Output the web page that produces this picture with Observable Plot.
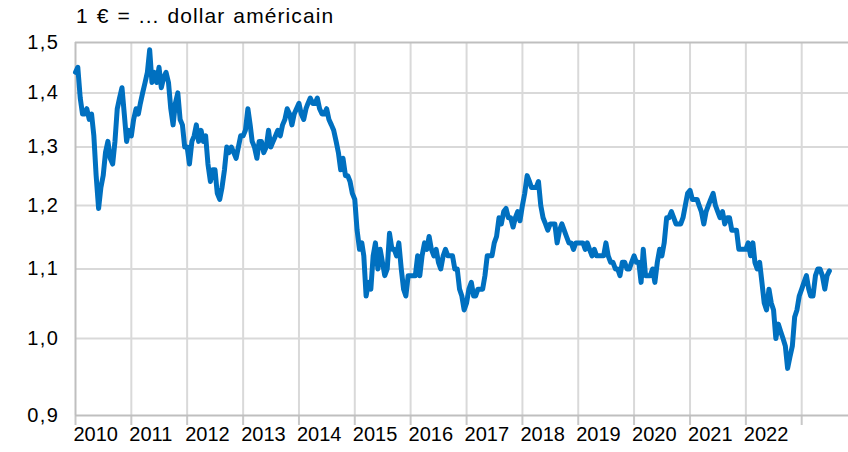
<!DOCTYPE html>
<html><head><meta charset="utf-8">
<script src="https://cdn.jsdelivr.net/npm/d3@7"></script>
<script src="https://cdn.jsdelivr.net/npm/@observablehq/plot@0.6"></script>
<style>
body{margin:0;background:#fff;font-family:"Liberation Sans",Arial,sans-serif;}
#wrap{position:relative;width:848px;height:452px;}
#title{position:absolute;left:76px;top:4px;font-size:21px;letter-spacing:1.1px;word-spacing:1px;color:#000;white-space:nowrap;}
.ylab text{letter-spacing:1.5px;}
</style></head><body>
<div id="wrap"><div id="title">1 € = ... dollar américain</div><div id="chart"></div></div>
<script>
// EUR/USD, two readings per month (1st and 16th)
const rate2010 = [1.44,1.45,1.39,1.36,1.36,1.37,1.35,1.36,1.32,1.25,1.195,1.23,1.25,1.29,1.31,1.28,1.27,1.31,1.37,1.39,1.41,1.36,1.31,1.33];
const rate2011 = [1.32,1.35,1.37,1.36,1.38,1.40,1.42,1.44,1.485,1.42,1.44,1.42,1.45,1.41,1.43,1.44,1.42,1.37,1.34,1.38,1.40,1.35,1.34,1.30];
const rate2012 = [1.30,1.27,1.31,1.32,1.34,1.31,1.33,1.31,1.32,1.27,1.24,1.26,1.26,1.22,1.21,1.23,1.26,1.30,1.29,1.30,1.29,1.28,1.30,1.32];
const rate2013 = [1.32,1.33,1.37,1.34,1.31,1.30,1.28,1.31,1.31,1.29,1.30,1.33,1.30,1.31,1.32,1.33,1.32,1.34,1.35,1.37,1.36,1.34,1.36,1.37];
const rate2014 = [1.38,1.36,1.35,1.37,1.38,1.39,1.38,1.38,1.39,1.37,1.36,1.36,1.37,1.35,1.34,1.33,1.31,1.29,1.26,1.28,1.25,1.25,1.24,1.22];
const rate2015 = [1.21,1.16,1.13,1.14,1.12,1.06,1.08,1.07,1.12,1.14,1.10,1.13,1.11,1.09,1.10,1.155,1.13,1.13,1.12,1.14,1.10,1.07,1.06,1.09];
const rate2016 = [1.09,1.09,1.09,1.12,1.09,1.12,1.14,1.13,1.15,1.13,1.12,1.13,1.11,1.10,1.12,1.13,1.12,1.12,1.12,1.10,1.10,1.07,1.06,1.04];
const rate2017 = [1.05,1.07,1.08,1.06,1.06,1.07,1.07,1.07,1.09,1.12,1.12,1.12,1.14,1.15,1.18,1.17,1.19,1.195,1.18,1.18,1.165,1.18,1.19,1.175];
const rate2018 = [1.20,1.22,1.25,1.24,1.23,1.23,1.23,1.24,1.20,1.18,1.17,1.16,1.17,1.17,1.17,1.14,1.16,1.17,1.16,1.15,1.14,1.14,1.13,1.14];
const rate2019 = [1.14,1.14,1.14,1.13,1.14,1.13,1.12,1.13,1.12,1.12,1.12,1.12,1.14,1.12,1.11,1.11,1.10,1.10,1.09,1.11,1.11,1.10,1.10,1.11];
const rate2020 = [1.12,1.11,1.11,1.08,1.13,1.09,1.09,1.09,1.10,1.08,1.11,1.13,1.12,1.14,1.18,1.18,1.19,1.18,1.17,1.17,1.17,1.18,1.20,1.22];
const rate2021 = [1.225,1.21,1.21,1.21,1.20,1.19,1.17,1.19,1.20,1.21,1.22,1.20,1.19,1.18,1.19,1.17,1.18,1.18,1.16,1.16,1.16,1.13,1.13,1.13];
const rate2022 = [1.13,1.14,1.12,1.14,1.11,1.10,1.11,1.08,1.05,1.04,1.07,1.05,1.04,1.00,1.02,1.01,1.00,0.99,0.96,0.975,0.99,1.03,1.04,1.06];
const rate2023 = [1.07,1.08,1.09,1.07,1.06,1.06,1.09,1.10,1.10,1.09,1.07,1.09,1.097];

const yTicks = [0.9,1.0,1.1,1.2,1.3,1.4,1.5];
const yTickLabels = ["0,9","1,0","1,1","1,2","1,3","1,4","1,5"];
const gridYears = [2010,2011,2012,2013,2014,2015,2016,2017,2018,2019,2020,2021,2022,2023];
const labelYears = [2010,2011,2012,2013,2014,2015,2016,2017,2018,2019,2020,2021,2022];

const allRates = [].concat(rate2010,rate2011,rate2012,rate2013,rate2014,rate2015,rate2016,rate2017,rate2018,rate2019,rate2020,rate2021,rate2022,rate2023);
const series = allRates.map((v,i)=>{
  const m = Math.floor(i/2);
  return {date: new Date(Date.UTC(2010 + Math.floor(m/12), m%12, i%2 ? 16 : 1)), value: v};
});
const yearDate = y => new Date(Date.UTC(y,0,1));
const yTickData = yTicks.map((v,i)=>({v, label: yTickLabels[i]}));

const chart = Plot.plot({
  width: 848, height: 452,
  marginLeft: 75, marginRight: 0, marginTop: 42, marginBottom: 37,
  style: {fontFamily: '"Liberation Sans", Arial, sans-serif', background: "#fff"},
  x: {type: "utc", domain: [yearDate(2010), new Date(Date.UTC(2023,10,3))], axis: null},
  y: {type: "log", domain: [0.9, 1.5], axis: null},
  marks: [
    Plot.ruleY(yTicks.slice(1,-1), {stroke: "#d9d9d9", strokeWidth: 2}),
    Plot.ruleX(gridYears.slice(1).map(yearDate), {stroke: "#d9d9d9", strokeWidth: 2}),
    Plot.ruleX(gridYears.map(yearDate), {stroke: "#c8c8c8", strokeWidth: 2, y1: 0.9, y2: 0.9, insetBottom: -10}),
    Plot.ruleY([1.5, 0.9], {stroke: "#bfbfbf", strokeWidth: 2}),
    Plot.ruleX([yearDate(2010)], {stroke: "#bfbfbf", strokeWidth: 2}),
    Plot.lineY(series, {x: "date", y: "value", stroke: "#0070c0", strokeWidth: 5, strokeLinejoin: "round", strokeLinecap: "round"}),
    Plot.text(yTickData, {y: "v", text: "label", frameAnchor: "left", textAnchor: "end", dx: -16, fontSize: 20, fill: "#000", className: "ylab"}),
    Plot.text(labelYears, {x: yearDate, text: d => String(d), frameAnchor: "bottom", textAnchor: "start", dx: -2, dy: 25, fontSize: 20, fill: "#000"})
  ]
});
document.getElementById("chart").appendChild(chart);
</script>
</body></html>
